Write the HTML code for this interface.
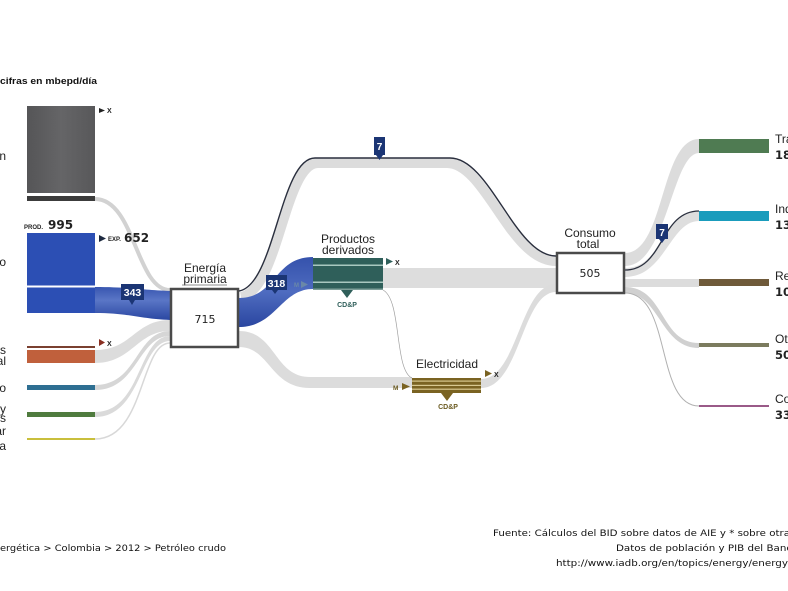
<!DOCTYPE html>
<html>
<head>
<meta charset="utf-8">
<style>
html,body{margin:0;padding:0;background:#fff;}
body{width:788px;height:591px;overflow:hidden;}
svg{display:block;}
.lbl{font-family:"Liberation Sans",Arial,sans-serif;fill:#222;}
.num{font-family:"DejaVu Sans","Liberation Sans",sans-serif;font-weight:bold;fill:#222;}
.ft{font-family:"DejaVu Sans","Liberation Sans",sans-serif;fill:#111;font-size:8.6px;}
.bw{font-family:"Liberation Sans",Arial,sans-serif;font-weight:bold;fill:#fff;}
</style>
</head>
<body>
<svg width="788" height="591" viewBox="0 0 788 591" xmlns="http://www.w3.org/2000/svg">
<defs>
<linearGradient id="blueflow" x1="0" y1="0" x2="0" y2="1">
<stop offset="0" stop-color="#3856b0"/>
<stop offset="0.4" stop-color="#5a76c6"/>
<stop offset="1" stop-color="#2a47a2"/>
</linearGradient>
<linearGradient id="blueflow2" x1="0" y1="0" x2="0" y2="1">
<stop offset="0" stop-color="#3552ac"/>
<stop offset="0.5" stop-color="#4f6cc0"/>
<stop offset="1" stop-color="#2a46a0"/>
</linearGradient>
<linearGradient id="graybox" x1="0" y1="0" x2="1" y2="0">
<stop offset="0" stop-color="#555557"/>
<stop offset="0.5" stop-color="#656567"/>
<stop offset="1" stop-color="#58585a"/>
</linearGradient>
</defs>

<!-- top title -->
<text x="0" y="84" font-family="Liberation Sans,Arial,sans-serif" font-weight="bold" font-size="9" fill="#111" textLength="97" lengthAdjust="spacingAndGlyphs">cifras en mbepd/día</text>

<!-- ===== flows ===== -->
<!-- left gray flows into Energía primaria -->
<path d="M95,199 C135,199 136,290 170,290" fill="none" stroke="#d2d2d2" stroke-width="4"/>
<path d="M95,350 C132,350 135,320 170,320 L170,331 C137,331 132,363 95,363 Z" fill="#dcdcdc"/>
<path d="M95,385 C138,385 136,331 170,331 L170,336 C138,336 138,390 95,390 Z" fill="#d6d6d6"/>
<path d="M95,412 C142,412 138,336 170,336 L170,341 C140,341 142,417 95,417 Z" fill="#dadada"/>
<path d="M95,439 C145,439 140,343 170,343" fill="none" stroke="#d8d8d8" stroke-width="1.5"/>

<!-- blue flow 343 -->
<path d="M95,287 C130,287 140,290 170,291 L170,320 C140,319 130,313 95,313 Z" fill="url(#blueflow)"/>

<!-- top flow (7) -->
<path d="M241,297 C279,290 284,163 318,163 L447,163 C486,163 510,261 556,261" fill="none" stroke="#dcdcdc" stroke-width="10"/>
<path d="M239,291 C275,285 280,158 315,158 L450,158 C490,158 515,256 556,256" fill="none" stroke="#2a2f3e" stroke-width="1.4"/>

<!-- blue flow 318 -->
<path d="M239,298 C276,298 274,257 313,257 L313,289 C281,289 276,327 239,327 Z" fill="url(#blueflow2)"/>

<!-- Energía -> Electricidad -->
<path d="M239,331 C276,331 274,377 310,377 L412,377 L412,388 L310,388 C270,388 270,347 239,347 Z" fill="#dcdcdc"/>

<!-- Productos -> Consumo -->
<rect x="383" y="268" width="173" height="20" fill="#dddddd"/>
<!-- thin line productos -> electricidad -->
<path d="M383,290 C402,300 394,370 412,378" fill="none" stroke="#a0a0a0" stroke-width="0.7"/>

<!-- Electricidad -> Consumo -->
<path d="M481,379 C518,379 520,284 556,284 L556,292 C522,292 520,388 481,388 Z" fill="#dcdcdc"/>

<!-- Consumo -> right -->
<path d="M625,253 C665,253 660,139 699,139 L699,153 C672,153 667,266 625,266 Z" fill="#dcdcdc"/>
<path d="M625,268 C664,268 660,211 699,211 L699,221 C670,221 665,277 625,277 Z" fill="#dedede"/>
<path d="M625,270 C664,270 660,211 699,211" fill="none" stroke="#2a2f3e" stroke-width="1.3"/>
<rect x="625" y="279" width="74" height="8" fill="#dcdcdc"/>
<path d="M625,287 C665,287 660,343 699,343 L699,348 C660,348 660,293 625,293 Z" fill="#d0d0d0"/>
<path d="M625,293 C672,293 655,406 699,406" fill="none" stroke="#b0b0b0" stroke-width="1"/>

<!-- ===== left nodes ===== -->
<rect x="27" y="106" width="68" height="87" fill="url(#graybox)"/>
<rect x="27" y="196" width="68" height="5" fill="#3c3c3c"/>
<polygon points="99,108 105,110.5 99,113" fill="#222"/>
<text x="107" y="113" font-family="Liberation Sans,Arial,sans-serif" font-weight="bold" font-size="7" fill="#222">X</text>

<rect x="27" y="233" width="68" height="80" fill="#2c4fb4"/>
<rect x="27" y="285.5" width="68" height="2" fill="#fff"/>
<text x="24" y="229" font-family="Liberation Sans,Arial,sans-serif" font-weight="bold" font-size="6" fill="#222">PROD.</text>
<text x="48" y="229" class="num" font-size="12" fill="#1e2a40">995</text>
<polygon points="99,235 106,238.5 99,242" fill="#1e2a40"/>
<text x="108" y="241" font-family="Liberation Sans,Arial,sans-serif" font-weight="bold" font-size="6" fill="#222">EXP.</text>
<text x="124" y="242" class="num" font-size="12" fill="#1e2a40">652</text>

<rect x="27" y="346" width="68" height="2" fill="#7a4030"/>
<rect x="27" y="350" width="68" height="13" fill="#c0603c"/>
<polygon points="99,339 105,342.5 99,346" fill="#8a3022"/>
<text x="107" y="346" font-family="Liberation Sans,Arial,sans-serif" font-weight="bold" font-size="7" fill="#222">X</text>

<rect x="27" y="385" width="68" height="5" fill="#2e6f92"/>
<rect x="27" y="412" width="68" height="5" fill="#4f7b3e"/>
<rect x="27" y="438" width="68" height="2" fill="#c9bf3c"/>

<!-- left labels (cut) -->
<g class="lbl" font-size="12" text-anchor="end">
<text x="6" y="160">Carbón</text>
<text x="6" y="266">Petróleo crudo</text>
<text x="6" y="354">Gas</text>
<text x="6" y="365">natural</text>
<text x="6" y="392">Hidro</text>
<text x="6" y="413">Biomasa y</text>
<text x="6" y="422">desechos</text>
<text x="6" y="435">Solar</text>
<text x="6" y="450">Eólica</text>
</g>

<!-- ===== Energía primaria ===== -->
<text x="205" y="272" class="lbl" font-size="12" text-anchor="middle">Energía</text>
<text x="205" y="283" class="lbl" font-size="12" text-anchor="middle">primaria</text>
<line x1="182" y1="285" x2="227" y2="285" stroke="#666" stroke-width="0.8"/>
<rect x="171" y="289" width="67" height="58" fill="#fff" stroke="#4a4a4a" stroke-width="2.5"/>
<text x="205" y="323" font-family="DejaVu Sans,sans-serif" font-size="11" fill="#222" text-anchor="middle">715</text>

<!-- ===== Productos derivados ===== -->
<text x="348" y="243" class="lbl" font-size="12" text-anchor="middle">Productos</text>
<text x="348" y="254" class="lbl" font-size="12" text-anchor="middle">derivados</text>
<rect x="313" y="258" width="70" height="32" fill="#2f5f5a"/>
<rect x="313" y="264.5" width="70" height="1.5" fill="#a9c8c0"/>
<rect x="313" y="281.5" width="70" height="1.5" fill="#a9c8c0"/>
<rect x="313" y="288.5" width="70" height="1.5" fill="#7fa09a"/>
<polygon points="386,258 393,261.5 386,265" fill="#2f5f5a"/>
<text x="395" y="265" font-family="Liberation Sans,Arial,sans-serif" font-weight="bold" font-size="7" fill="#222">X</text>
<text x="294" y="287" font-family="Liberation Sans,Arial,sans-serif" font-weight="bold" font-size="6" fill="#6a88a8">M</text>
<polygon points="301,281 308,284.5 301,288" fill="#6a88a8"/>
<polygon points="341,290 353,290 347,298" fill="#2f5f5a"/>
<text x="347" y="307" font-family="Liberation Sans,Arial,sans-serif" font-weight="bold" font-size="7" fill="#2f5f5a" text-anchor="middle">CD&amp;P</text>

<!-- ===== Electricidad ===== -->
<text x="447" y="368" class="lbl" font-size="12" text-anchor="middle">Electricidad</text>
<rect x="412" y="378" width="69" height="15" fill="#7a6322"/>
<rect x="412" y="380.5" width="69" height="1.2" fill="#d8c890"/>
<rect x="412" y="384.8" width="69" height="1.2" fill="#d8c890"/>
<rect x="412" y="388.6" width="69" height="1.2" fill="#d8c890"/>
<polygon points="485,370 492,373.5 485,377" fill="#7a6322"/>
<text x="494" y="377" font-family="Liberation Sans,Arial,sans-serif" font-weight="bold" font-size="7" fill="#222">X</text>
<text x="393" y="390" font-family="Liberation Sans,Arial,sans-serif" font-weight="bold" font-size="6.5" fill="#6a5a20">M</text>
<polygon points="402,383 410,386.5 402,390" fill="#7a6322"/>
<polygon points="441,393 453,393 447,401" fill="#7a6322"/>
<text x="448" y="409" font-family="Liberation Sans,Arial,sans-serif" font-weight="bold" font-size="7" fill="#6a5a20" text-anchor="middle">CD&amp;P</text>

<!-- ===== Consumo total ===== -->
<text x="590" y="237" class="lbl" font-size="12" text-anchor="middle">Consumo</text>
<text x="588" y="248" class="lbl" font-size="12" text-anchor="middle">total</text>
<rect x="557" y="253" width="67" height="40" fill="#fff" stroke="#4a4a4a" stroke-width="2.5"/>
<text x="590" y="277" font-family="DejaVu Sans,sans-serif" font-size="11" fill="#222" text-anchor="middle">505</text>

<!-- ===== right nodes ===== -->
<rect x="699" y="139" width="70" height="14" fill="#4f7b52"/>
<rect x="699" y="211" width="70" height="10" fill="#1a9cbc"/>
<rect x="699" y="279" width="70" height="7" fill="#6f5a3a"/>
<rect x="699" y="343" width="70" height="4" fill="#7b7b5e"/>
<rect x="699" y="405" width="70" height="2" fill="#9a5a88"/>

<g class="lbl" font-size="12">
<text x="775" y="143">Transporte</text>
<text x="775" y="213">Industria</text>
<text x="775" y="280">Residencial</text>
<text x="775" y="343">Otros</text>
<text x="775" y="403">Comercial</text>
</g>
<g class="num" font-size="11.5">
<text x="775" y="159">184</text>
<text x="775" y="229">132</text>
<text x="775" y="296">101</text>
<text x="775" y="359">50</text>
<text x="775" y="419">33</text>
</g>

<!-- ===== badges ===== -->
<g fill="#1b3574">
<rect x="121" y="284" width="23" height="16"/>
<polygon points="129,300 135,300 132,305"/>
<rect x="266" y="275" width="21" height="15"/>
<polygon points="272,290 278,290 275,294"/>
<rect x="374" y="137" width="11" height="18"/>
<polygon points="376,155 383,155 379.5,160"/>
<rect x="656" y="224" width="12" height="15"/>
<polygon points="659,239 665,239 662,243"/>
</g>
<text x="132.5" y="296" class="bw" font-size="10.5" text-anchor="middle">343</text>
<text x="276.5" y="287" class="bw" font-size="10.5" text-anchor="middle">318</text>
<text x="379.5" y="150" class="bw" font-size="10" text-anchor="middle">7</text>
<text x="662" y="236" class="bw" font-size="10" text-anchor="middle">7</text>

<!-- ===== footer ===== -->
<text x="0" y="551" class="ft" textLength="226" lengthAdjust="spacingAndGlyphs">ergética &gt; Colombia &gt; 2012 &gt; Petróleo crudo</text>
<text x="493" y="536" class="ft" textLength="297" lengthAdjust="spacingAndGlyphs">Fuente: Cálculos del BID sobre datos de AIE y * sobre otra</text>
<text x="616" y="551" class="ft" textLength="176" lengthAdjust="spacingAndGlyphs">Datos de población y PIB del Banc</text>
<text x="556" y="566" class="ft" textLength="232" lengthAdjust="spacingAndGlyphs">http://www.iadb.org/en/topics/energy/energy</text>
</svg>
</body>
</html>
